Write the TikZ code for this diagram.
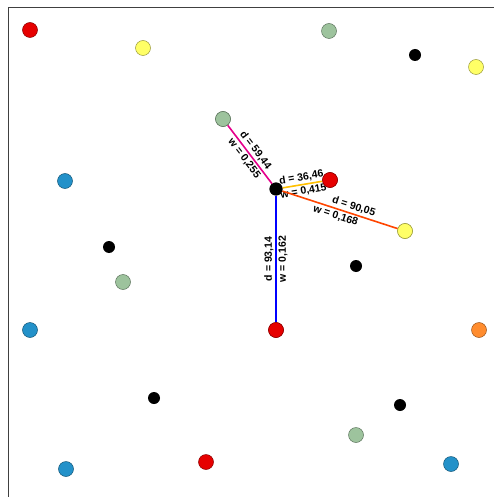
\documentclass[tikz,border=0pt]{standalone}
\usepackage{fontspec}
\setmainfont{Liberation Sans}
\begin{document}
\begin{tikzpicture}[x=1pt,y=-1pt,
  dot/.style={circle,draw=#1!60!black,fill=#1,line width=0.5pt,minimum size=15pt,inner sep=0pt},
  blk/.style={circle,fill=black,minimum size=12pt,inner sep=0pt},
  lbl/.style={font=\fontsize{10.5}{12}\selectfont\bfseries,sloped,inner sep=1.8pt},
  edge/.style={line width=1.6pt}]
\definecolor{cred}{HTML}{E60000}
\definecolor{cyel}{HTML}{FFFF66}
\definecolor{cgrn}{HTML}{9DC39D}
\definecolor{cblu}{HTML}{2391C9}
\definecolor{corg}{HTML}{FF8C2E}
\definecolor{cmag}{HTML}{E6008C}
\definecolor{cgold}{HTML}{FFC000}
\definecolor{cored}{HTML}{FF4500}
\useasboundingbox (0,0) rectangle (494,497);
\fill[white] (0,0) rectangle (494,497);
\draw[line width=1pt,black!75] (8,497) -- (8,8) -- (494,8);
% nodes
\node[dot=cred] (r1) at (30,30) {};
\node[dot=cyel] (y1) at (143,48) {};
\node[dot=cgrn] (g1) at (329,31) {};
\node[blk] (b1) at (415,55) {};
\node[dot=cyel] (y2) at (476,67) {};
\node[dot=cgrn] (g2) at (223,119) {};
\node[dot=cblu] (u1) at (65,181) {};
\node[dot=cred] (r2) at (330,180) {};
\node[dot=cyel] (y3) at (405,231) {};
\node[blk] (b2) at (109,247) {};
\node[blk] (b3) at (356,266) {};
\node[dot=cgrn] (g3) at (123,282) {};
\node[dot=cblu] (u2) at (30,330) {};
\node[dot=cred] (r3) at (276,330) {};
\node[dot=corg] (o1) at (479,330) {};
\node[blk] (b4) at (154,398) {};
\node[blk] (b5) at (400,405) {};
\node[dot=cgrn] (g4) at (356,435) {};
\node[dot=cblu] (u3) at (66,469) {};
\node[dot=cred] (r4) at (206,462) {};
\node[dot=cblu] (u4) at (451,464) {};
\node[blk,minimum size=13pt] (c) at (276,189) {};
% edges
\draw[edge,cmag] (g2) -- (c)
  node[lbl,midway,above,black] {d = 59,44}
  node[lbl,midway,below,black] {w = 0,255};
\draw[edge,cgold] (c) -- (r2)
  node[lbl,midway,above,black] {d = 36,46}
  node[lbl,midway,below,black] {w = 0,415};
\draw[edge,cored] (c) -- (y3)
  node[lbl,pos=0.6,above,black] {d = 90,05}
  node[lbl,pos=0.48,below,black] {w = 0,168};
\draw[edge,blue] (r3) -- (c)
  node[lbl,midway,above,black] {d = 93,14}
  node[lbl,midway,below,black] {w = 0,162};
\node[blk,minimum size=13pt] at (c) {};
\node[dot=cred] at (r2) {};
\node[dot=cyel] at (y3) {};
\node[dot=cgrn] at (g2) {};
\node[dot=cred] at (r3) {};
\end{tikzpicture}
\end{document}
